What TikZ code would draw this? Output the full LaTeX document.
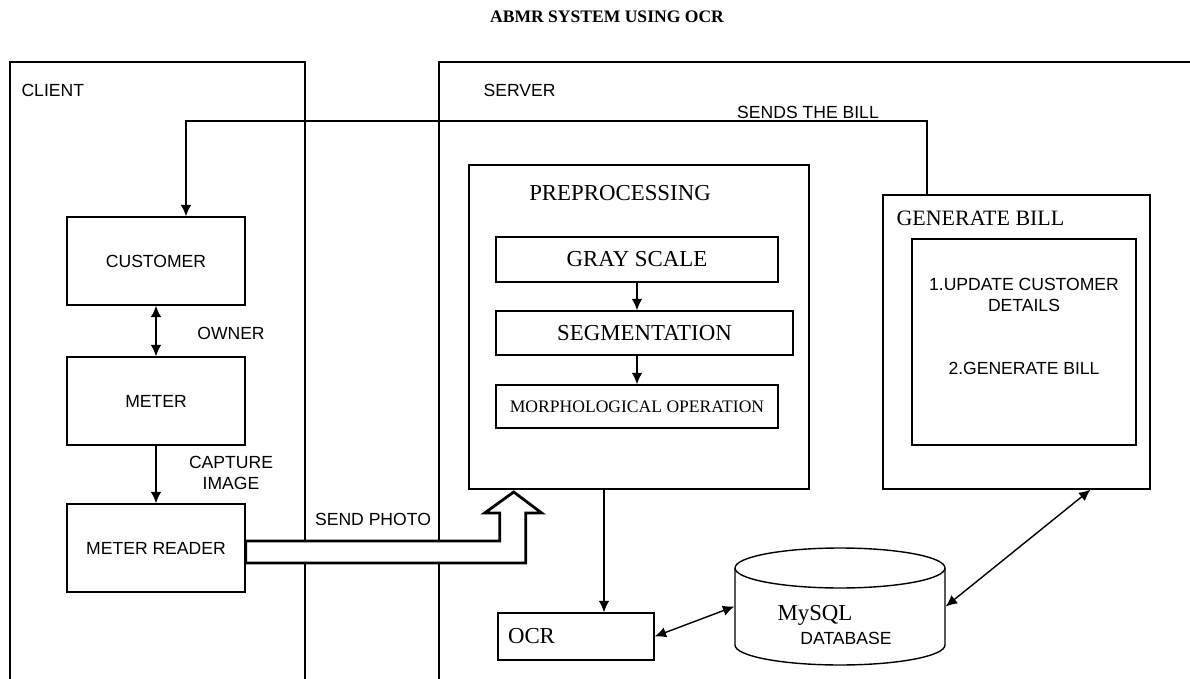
\documentclass[tikz,border=0pt]{standalone}
\usepackage{fontspec}
\setmainfont{Liberation Serif}
\setsansfont{Liberation Sans}
\usetikzlibrary{calc,arrows.meta}

\begin{document}
\begin{tikzpicture}[x=0.02cm,y=-0.02cm,line width=0.8pt,
    >={Latex[length=6.5pt,width=6pt]},
    lbl/.style={font=\sffamily},
    rmlbl/.style={font=\fontsize{13}{15}\selectfont},
    box/.style={draw,font=\sffamily},
    rmbox/.style={draw,rmlbl},
    photoarrow/.style={line width=1.6pt,fill=white,line join=miter}]
  \useasboundingbox (0,0) rectangle (1190,679);
  \node[font=\bfseries](title)at(607,17){ABMR SYSTEM USING OCR};
  % client and server areas
  \draw (10,679) -- (10,62) -- (305,62) -- (305,679);
  \draw (439,679) -- (439,62) -- (1190,62);
  \node[lbl,anchor=west](client)at(15,90){CLIENT};
  \node[lbl,anchor=west](server)at(477,90){SERVER};
  % client side
  \node[box,minimum width=3.56cm,minimum height=1.76cm](customer)at(156,261){CUSTOMER};
  \node[box,minimum width=3.56cm,minimum height=1.76cm](meter)at(156,401){METER};
  \node[box,minimum width=3.56cm,minimum height=1.76cm](reader)at(156,548){METER READER};
  \draw[<->](customer)--(meter);
  \draw[->](meter)--(reader);
  \node[lbl](owner)at(231,333){OWNER};
  \node[lbl,align=center](capture)at(231,473){CAPTURE\\IMAGE};
  % preprocessing
  \node[draw,minimum width=6.8cm,minimum height=6.48cm](pre)at(639,327){};
  \node[rmlbl](pretext)at(620,193){PREPROCESSING};
  \node[rmbox,minimum width=5.64cm,minimum height=0.9cm](gray)at(637,259.5){GRAY SCALE};
  \node[rmbox,minimum width=5.94cm,minimum height=0.88cm](seg)at(644.5,333){SEGMENTATION};
  \node[draw,minimum width=5.64cm,minimum height=0.86cm](morph)at(637,406.5){MORPHOLOGICAL OPERATION};
  \draw[->](gray.south)--(gray.south |- seg.north);
  \draw[->](gray.south |- seg.south)--(morph.north);
  % generate bill
  \node[draw,minimum width=5.34cm,minimum height=5.88cm](genbill)at(1016.5,342){};
  \node[font=\fontsize{12.5}{15}\selectfont,anchor=west](gentext)at(890,218){GENERATE BILL};
  \node[draw,minimum width=4.48cm,minimum height=4.12cm](steps)at(1024,342){};
  \node[lbl,align=center](update)at(1024,295){1.UPDATE CUSTOMER\\DETAILS};
  \node[lbl](billstep)at(1024,368){2.GENERATE BILL};
  \coordinate (billtop) at (186,121);
  \draw[->]([xshift=-1.79cm]genbill.north) |- (billtop) -- (billtop |- customer.north);
  \node[lbl](sends)at(808,112){SENDS THE BILL};
  % ocr and database
  \node[rmbox,minimum width=3.12cm,minimum height=0.94cm,text width=2.72cm,align=left,inner xsep=0.2cm](ocr)at(576,636.5){OCR};
  \draw[->]([xshift=0.56cm]ocr.north |- pre.south)--([xshift=0.56cm]ocr.north);
  \node[minimum width=4.2cm,minimum height=2.34cm](db)at(840,606.5){};
  \draw (735,568) -- (735,645) arc[start angle=180,end angle=360,x radius=2.1cm,y radius=0.4cm] -- (945,568);
  \draw (840,568) ellipse[x radius=2.1cm,y radius=0.4cm];
  \node[rmlbl](mysql)at(815,615){MySQL};
  \node[lbl](dbtext)at(846,638){DATABASE};
  \draw[<->](ocr.east)--(db.west);
  \draw[<->](db.east)--([xshift=1.48cm]genbill.south);
  % send photo
  \draw[photoarrow](reader.east) ++(0,-7) -- ++(254,0) -- ++(0,-28) -- ++(-15,0) -- ++(29,-21)
    -- ++(28,21) -- ++(-16,0) -- ++(0,50) -- ++(-280,0) -- cycle;
  \node[lbl](photo)at(373,519){SEND PHOTO};
\end{tikzpicture}
\end{document}
